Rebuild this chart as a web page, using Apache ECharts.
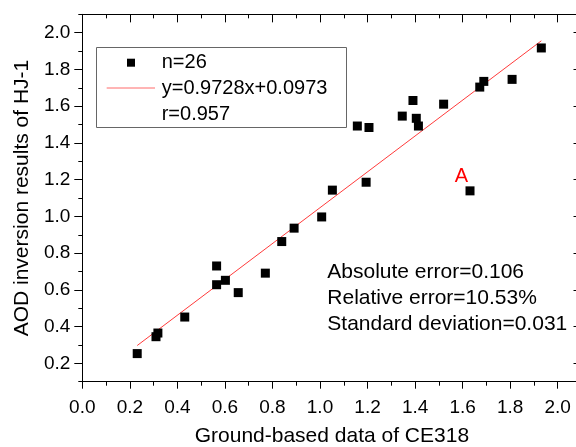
<!DOCTYPE html>
<html>
<head>
<meta charset="utf-8">
<script src="https://cdn.jsdelivr.net/npm/echarts@6/dist/echarts.min.js"></script>
<style>
  html, body { margin: 0; padding: 0; background: #fff; }
  #chart { width: 576px; height: 447px; }
</style>
</head>
<body>
<div id="chart"></div>
<script>
// CE318 ground data (x) vs HJ-1 AOD (y)
const ce318 = [0.231, 0.310, 0.318, 0.431, 0.565, 0.565, 0.602, 0.656, 0.770, 0.839, 0.891, 1.007, 1.052,
  1.157, 1.206, 1.194, 1.346, 1.391, 1.405, 1.414, 1.520, 1.672, 1.689, 1.808, 1.931, 1.631]
const hj1 = [0.253, 0.345, 0.365, 0.452, 0.730, 0.628, 0.652, 0.585, 0.691, 0.863, 0.936, 0.997, 1.143,
  1.492, 1.484, 1.186, 1.546, 1.631, 1.534, 1.492, 1.611, 1.704, 1.735, 1.746, 1.917, 1.139]
const outlierIndex = 25 // point "A"

// fit line end points
const fitX = [0.231, 1.931]
const fitY = [0.297, 1.956]

// ticks
const xMajor = [0, 0.2, 0.4, 0.6, 0.8, 1.0, 1.2, 1.4, 1.6, 1.8, 2.0]
const xMinor = [0.1, 0.3, 0.5, 0.7, 0.9, 1.1, 1.3, 1.5, 1.7, 1.9, 2.1]
const yMajor = [0.2, 0.4, 0.6, 0.8, 1.0, 1.2, 1.4, 1.6, 1.8, 2.0]
const yMinor = [0.1, 0.3, 0.5, 0.7, 0.9, 1.1, 1.3, 1.5, 1.7, 1.9, 2.1]

const legendLines = ['n=26', 'y=0.9728x+0.0973', 'r=0.957']
const statLines = ['Absolute error=0.106', 'Relative error=10.53%', 'Standard deviation=0.031']

const font = "'Liberation Sans', Arial, sans-serif"
const black = '#000'

let points = ce318.map(function (x, i) {
  let p = { value: [x, hj1[i]] }
  if (i === outlierIndex) {
    p.label = {
      show: true,
      formatter: 'A',
      position: 'inside',
      offset: [-8.5, -14.5],
      color: '#ff0000',
      fontSize: 20,
      fontFamily: font
    }
  }
  return p
})
let fitLine = fitX.map(function (x, i) { return [x, fitY[i]] })

// helper to build tick-only axes (minor ticks, mirrored ticks)
function tickAxis (dim, pos, values, len, inside) {
  return {
    type: 'value',
    position: pos,
    min: dim === 'x' ? 0 : 0.1,
    max: 2.1,
    axisLine: { show: false, onZero: false },
    axisTick: { show: true, customValues: values, length: len, inside: inside, lineStyle: { color: black, width: 1 } },
    axisLabel: { show: false },
    splitLine: { show: false }
  }
}

let option = {
  animation: false,
  backgroundColor: '#fff',
  // right spine sits just outside the canvas (x = 2.1)
  grid: { left: 82.3, top: 14.35, width: 499.2, height: 367.35, containLabel: false, outerBoundsMode: 'none' },
  xAxis: [
    {
      type: 'value',
      position: 'bottom',
      min: 0,
      max: 2.1,
      name: 'Ground-based data of CE318',
      nameLocation: 'middle',
      nameGap: 44,
      nameTextStyle: { fontSize: 21, fontFamily: font, color: black },
      axisLine: { show: true, onZero: false, lineStyle: { color: black, width: 1 } },
      axisTick: { show: true, customValues: xMajor, length: 7, lineStyle: { color: black, width: 1 } },
      axisLabel: {
        customValues: xMajor,
        formatter: function (v) { return v.toFixed(1) },
        fontSize: 19,
        fontFamily: font,
        color: black,
        margin: 17
      },
      splitLine: { show: false }
    },
    tickAxis('x', 'bottom', xMinor, 4, false),
    Object.assign(tickAxis('x', 'top', xMajor, 8, true), { axisLine: { show: true, onZero: false, lineStyle: { color: black, width: 1 } } }),
    tickAxis('x', 'top', xMinor, 4, true)
  ],
  yAxis: [
    {
      type: 'value',
      position: 'left',
      min: 0.1,
      max: 2.1,
      name: 'AOD inversion results of HJ-1',
      nameLocation: 'middle',
      nameGap: 49,
      nameTextStyle: { fontSize: 21, fontFamily: font, color: black },
      axisLine: { show: true, onZero: false, lineStyle: { color: black, width: 1 } },
      axisTick: { show: true, customValues: yMajor, length: 8, lineStyle: { color: black, width: 1 } },
      axisLabel: {
        customValues: yMajor,
        formatter: function (v) { return v.toFixed(1) },
        fontSize: 19,
        fontFamily: font,
        color: black,
        margin: 12
      },
      splitLine: { show: false }
    },
    tickAxis('y', 'left', yMinor, 4, false),
    Object.assign(tickAxis('y', 'right', yMajor, 8, true), { axisLine: { show: true, onZero: false, lineStyle: { color: black, width: 1 } } }),
    tickAxis('y', 'right', yMinor, 4, true)
  ],
  series: [
    {
      type: 'line',
      data: fitLine,
      symbol: 'none',
      lineStyle: { color: '#ff3b3b', width: 1 },
      z: 2
    },
    {
      type: 'scatter',
      data: points,
      symbol: 'rect',
      symbolSize: 9,
      itemStyle: { color: black, opacity: 1 },
      z: 3
    }
  ],
  graphic: [
    {
      type: 'rect',
      shape: { x: 96.5, y: 47.5, width: 250, height: 80 },
      style: { fill: '#fff', stroke: '#666', lineWidth: 1 },
      z: 10
    },
    {
      type: 'rect',
      shape: { x: 127, y: 58.7, width: 8, height: 8 },
      style: { fill: black },
      z: 11
    },
    {
      type: 'line',
      shape: { x1: 106.7, y1: 88, x2: 155, y2: 88 },
      style: { stroke: '#ff6a6a', lineWidth: 1 },
      z: 11
    },
    {
      type: 'text',
      left: 161.7,
      top: 49.7,
      style: {
        text: legendLines.join('\n'),
        font: '20px ' + font,
        lineHeight: 26,
        fill: black
      },
      z: 11
    },
    {
      type: 'text',
      left: 327.3,
      top: 259.7,
      style: {
        text: statLines.join('\n'),
        font: '21px ' + font,
        lineHeight: 26,
        fill: black
      },
      z: 11
    }
  ]
}

var myChart = echarts.init(document.getElementById('chart'))
myChart.setOption(option)
</script>
</body>
</html>
